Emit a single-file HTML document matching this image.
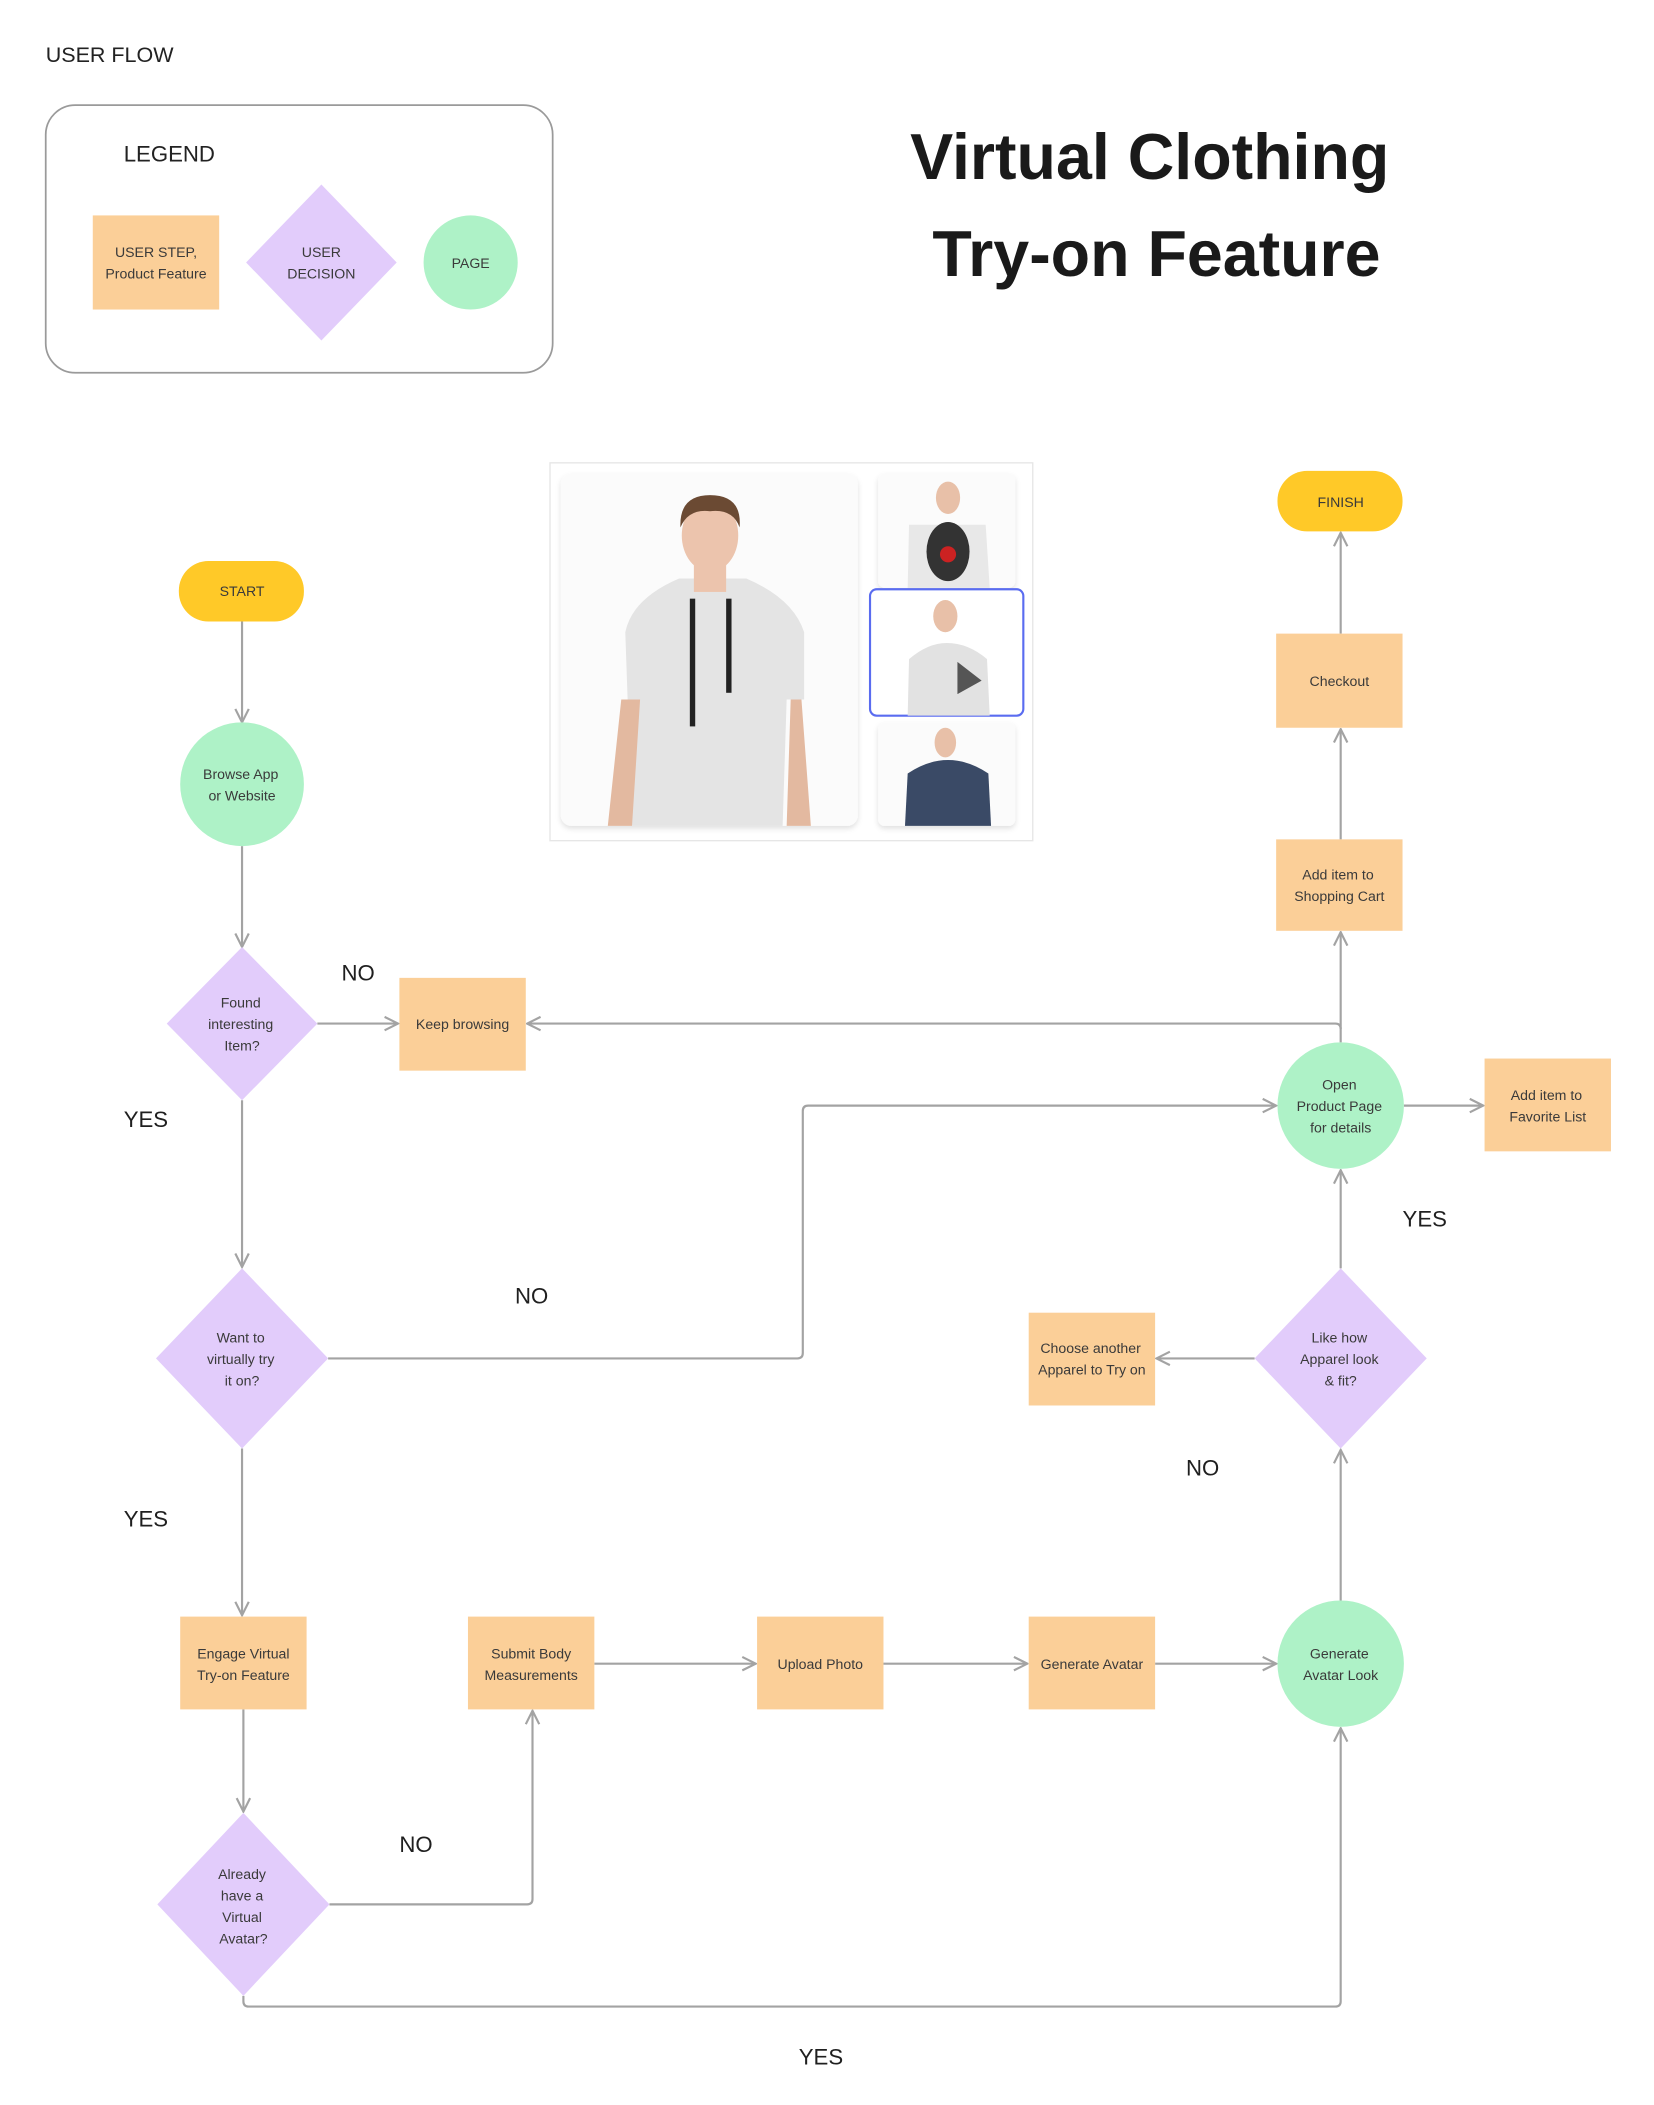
<!DOCTYPE html>
<html><head><meta charset="utf-8"><style>
html,body{margin:0;padding:0;background:#fff;}
svg{display:block;}
text{font-family:"Liberation Sans",sans-serif;}
.n{font-size:10.5px;fill:#3a3a3a;text-anchor:middle;}
.l{font-size:16.5px;fill:#1f1f1f;}
.c{fill:none;stroke:#a3a3a3;stroke-width:1.6;}
</style></head><body>
<svg width="1654" height="2105" viewBox="0 0 1230 1565" xmlns="http://www.w3.org/2000/svg">
<defs>
<marker id="a" viewBox="0 0 12 12" refX="11" refY="6" markerWidth="12" markerHeight="12" markerUnits="userSpaceOnUse" orient="auto">
<path d="M1,1 L11,6 L1,11" fill="none" stroke="#a3a3a3" stroke-width="1.6"/>
</marker>
<filter id="sh" x="-10%" y="-10%" width="120%" height="120%"><feDropShadow dx="0" dy="2" stdDeviation="2" flood-color="#000" flood-opacity="0.12"/></filter>
</defs>

<text x="34" y="46" style="font-size:16px;fill:#222">USER FLOW</text>
<rect x="34" y="78" width="377" height="199" rx="22" fill="none" stroke="#9a9a9a" stroke-width="1.3"/>
<text x="92" y="120" style="font-size:16.5px;fill:#222">LEGEND</text>
<rect x="69" y="160" width="94" height="70" fill="#FBCF98"/>
<text class="n" x="116" y="191">USER STEP,</text>
<text class="n" x="116" y="207">Product Feature</text>
<polygon points="239,137 295,195 239,253 183,195" fill="#E2CCFB"/>
<text class="n" x="239" y="191">USER</text>
<text class="n" x="239" y="207">DECISION</text>
<ellipse cx="350" cy="195" rx="35" ry="35" fill="#AEF2C7"/>
<text class="n" x="350" y="199">PAGE</text>

<text x="855" y="133" style="font-size:48px;font-weight:bold;fill:#1a1a1a;text-anchor:middle">Virtual Clothing</text>
<text x="860" y="205" style="font-size:48px;font-weight:bold;fill:#1a1a1a;text-anchor:middle">Try-on Feature</text>

<!-- image panel -->
<rect x="409" y="344" width="359" height="281" fill="#fff" stroke="#e6e6e6"/>
<rect x="417" y="352" width="221" height="262" rx="8" fill="#fbfbfb" filter="url(#sh)"/>
<path d="M470,614 L465,470 Q470,445 505,430 L555,430 Q590,445 598,470 L598,520 L585,520 L582,614 Z" fill="#e4e4e4"/>
<path d="M462,520 L452,614 L470,614 L476,520 Z M588,520 L585,614 L603,614 L596,520Z" fill="#e3b9a0"/>
<ellipse cx="528" cy="398" rx="21" ry="27" fill="#ecc4ad"/>
<path d="M506,392 Q505,368 528,368 Q552,368 550,392 Q545,378 528,380 Q512,378 506,392Z" fill="#6b4a33"/>
<rect x="516" y="420" width="24" height="20" fill="#ecc4ad"/>
<rect x="513" y="445" width="4" height="95" fill="#222"/><rect x="540" y="445" width="4" height="70" fill="#222"/>
<rect x="653" y="352" width="102" height="85" rx="5" fill="#fbfbfb" filter="url(#sh)"/>
<path d="M675,437 L676,390 L733,390 L736,437Z" fill="#e8e8e8"/>
<ellipse cx="705" cy="410" rx="16" ry="22" fill="#333"/><circle cx="705" cy="412" r="6" fill="#c22"/>
<ellipse cx="705" cy="370" rx="9" ry="12" fill="#e8c0a8"/>
<rect x="653" y="537" width="102" height="77" rx="5" fill="#fbfbfb" filter="url(#sh)"/>
<path d="M673,614 L675,575 Q690,565 705,565 Q720,565 735,575 L737,614Z" fill="#3a4a66"/>
<ellipse cx="703" cy="552" rx="8" ry="11" fill="#e8c0a8"/>
<rect x="647" y="438" width="114" height="94" rx="5" fill="#fff" stroke="#5a6cf0" stroke-width="1.6"/>
<path d="M675,532 L676,490 Q690,478 704,478 Q720,478 734,490 L736,532Z" fill="#e2e2e2"/>
<ellipse cx="703" cy="458" rx="9" ry="12" fill="#e8c0a8"/>
<polygon points="712,492 730,506 712,516" fill="#555"/>

<!-- connectors -->
<path class="c" d="M180,462 V537" marker-end="url(#a)"/>
<path class="c" d="M180,629 V704" marker-end="url(#a)"/>
<path class="c" d="M236,761 H296" marker-end="url(#a)"/>
<path class="c" d="M997,775 V765 Q997,761 993,761 H392" marker-end="url(#a)"/>
<path class="c" d="M997,765 V693" marker-end="url(#a)"/>
<path class="c" d="M997,624 V542" marker-end="url(#a)"/>
<path class="c" d="M997,471 V396" marker-end="url(#a)"/>
<path class="c" d="M180,818 V942" marker-end="url(#a)"/>
<path class="c" d="M244,1010 H593 Q597,1010 597,1006 V826 Q597,822 601,822 H949" marker-end="url(#a)"/>
<path class="c" d="M1044,822 H1103" marker-end="url(#a)"/>
<path class="c" d="M180,1077 V1201" marker-end="url(#a)"/>
<path class="c" d="M181,1271 V1347" marker-end="url(#a)"/>
<path class="c" d="M245,1416 H392 Q396,1416 396,1412 V1272" marker-end="url(#a)"/>
<path class="c" d="M181,1484 V1488 Q181,1492 185,1492 H993 Q997,1492 997,1488 V1285" marker-end="url(#a)"/>
<path class="c" d="M442,1237 H562" marker-end="url(#a)"/>
<path class="c" d="M657,1237 H764" marker-end="url(#a)"/>
<path class="c" d="M859,1237 H949" marker-end="url(#a)"/>
<path class="c" d="M997,1190 V1078" marker-end="url(#a)"/>
<path class="c" d="M933,1010 H860" marker-end="url(#a)"/>
<path class="c" d="M997,943 V870" marker-end="url(#a)"/>

<!-- nodes -->
<rect x="133" y="417" width="93" height="45" rx="22" fill="#FFC928"/>
<text class="n" x="180" y="443">START</text>
<rect x="950" y="350" width="93" height="45" rx="22" fill="#FFC928"/>
<text class="n" x="997" y="377">FINISH</text>

<circle cx="180" cy="583" r="46" fill="#AEF2C7"/>
<text class="n" x="179" y="579">Browse App</text><text class="n" x="180" y="595">or Website</text>

<polygon points="180,704 236,761 180,818 124,761" fill="#E2CCFB"/>
<text class="n" x="179" y="749">Found</text><text class="n" x="179" y="765">interesting</text><text class="n" x="180" y="781">Item?</text>

<rect x="297" y="727" width="94" height="69" fill="#FBCF98"/>
<text class="n" x="344" y="765">Keep browsing</text>

<polygon points="180,943 244,1010 180,1077 116,1010" fill="#E2CCFB"/>
<text class="n" x="179" y="998">Want to</text><text class="n" x="179" y="1014">virtually try</text><text class="n" x="180" y="1030">it on?</text>

<rect x="134" y="1202" width="94" height="69" fill="#FBCF98"/>
<text class="n" x="181" y="1233">Engage Virtual</text><text class="n" x="181" y="1249">Try-on Feature</text>

<polygon points="181,1348 245,1416 181,1484 117,1416" fill="#E2CCFB"/>
<text class="n" x="180" y="1397">Already</text><text class="n" x="180" y="1413">have a</text><text class="n" x="180" y="1429">Virtual</text><text class="n" x="181" y="1445">Avatar?</text>

<rect x="348" y="1202" width="94" height="69" fill="#FBCF98"/>
<text class="n" x="395" y="1233">Submit Body</text><text class="n" x="395" y="1249">Measurements</text>
<rect x="563" y="1202" width="94" height="69" fill="#FBCF98"/>
<text class="n" x="610" y="1241">Upload Photo</text>
<rect x="765" y="1202" width="94" height="69" fill="#FBCF98"/>
<text class="n" x="812" y="1241">Generate Avatar</text>

<circle cx="997" cy="1237" r="47" fill="#AEF2C7"/>
<text class="n" x="996" y="1233">Generate</text><text class="n" x="997" y="1249">Avatar Look</text>

<polygon points="997,943 1061,1010 997,1077 933,1010" fill="#E2CCFB"/>
<text class="n" x="996" y="998">Like how</text><text class="n" x="996" y="1014">Apparel look</text><text class="n" x="997" y="1030">&amp; fit?</text>

<rect x="765" y="976" width="94" height="69" fill="#FBCF98"/>
<text class="n" x="811" y="1006">Choose another</text><text class="n" x="812" y="1022">Apparel to Try on</text>

<circle cx="997" cy="822" r="47" fill="#AEF2C7"/>
<text class="n" x="996" y="810">Open</text><text class="n" x="996" y="826">Product Page</text><text class="n" x="997" y="842">for details</text>

<rect x="1104" y="787" width="94" height="69" fill="#FBCF98"/>
<text class="n" x="1150" y="818">Add item to</text><text class="n" x="1151" y="834">Favorite List</text>

<rect x="949" y="624" width="94" height="68" fill="#FBCF98"/>
<text class="n" x="995" y="654">Add item to</text><text class="n" x="996" y="670">Shopping Cart</text>
<rect x="949" y="471" width="94" height="70" fill="#FBCF98"/>
<text class="n" x="996" y="510">Checkout</text>

<!-- labels -->
<text class="l" x="254" y="729">NO</text>
<text class="l" x="92" y="838">YES</text>
<text class="l" x="383" y="969">NO</text>
<text class="l" x="1043" y="912">YES</text>
<text class="l" x="92" y="1135">YES</text>
<text class="l" x="882" y="1097">NO</text>
<text class="l" x="297" y="1377">NO</text>
<text class="l" x="594" y="1535">YES</text>
</svg>
</body></html>
